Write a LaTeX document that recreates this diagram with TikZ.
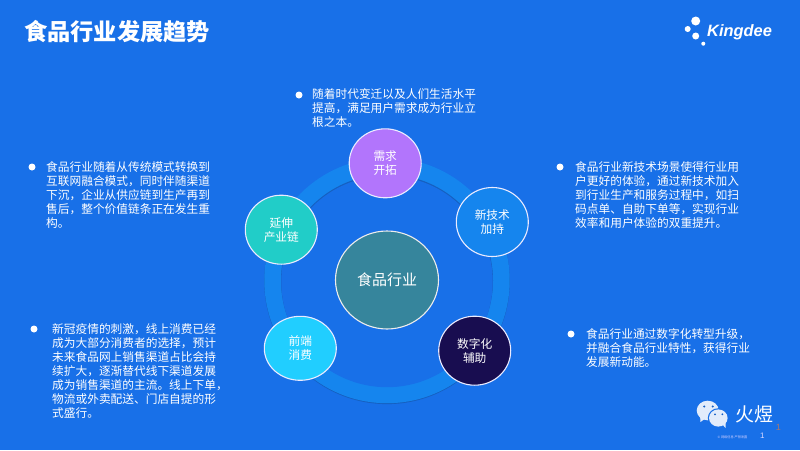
\documentclass[tikz,border=0pt]{standalone}
\usepackage{fontspec}
\setmainfont{Noto Sans CJK SC}
\newfontfamily\latinfont{Liberation Sans}
\usetikzlibrary{shapes.geometric}
\definecolor{bgblue}{HTML}{1870E8}
\definecolor{ringblue}{HTML}{1585EE}
\definecolor{ringshade}{HTML}{1660C0}
\definecolor{bubble}{HTML}{E2ECFB}
\tikzset{
  x=1pt,y=-1pt,
  bodytext/.style={text=white,anchor=north west,align=left,inner sep=0pt,font=\fontsize{11.7}{14}\selectfont},
  bullet/.style={circle,fill=white,minimum size=7pt,inner sep=0pt},
  disc/.style={ellipse,draw=white!92!blue,line width=1.1pt,text=white,align=center,minimum width=72pt,minimum height=69pt,inner sep=0pt,font=\fontsize{11.7}{14}\selectfont},
  logodot/.style={circle,fill=white,inner sep=0pt},
}
\begin{document}
\begin{tikzpicture}
\useasboundingbox (0,0) rectangle (800,450);
\fill[bgblue] (0,0) rectangle (800,450);
% ring
\fill[ringshade] (387,281.3) circle[radius=122.8];
\fill[ringblue] (387,280.5) circle[radius=122.7];
\fill[ringshade] (387,280.5) circle[radius=106];
\fill[bgblue] (387,281.5) circle[radius=105.7];
% title
\node[anchor=west,inner sep=0pt,text=white,font=\fontsize{23.2}{26}\selectfont\bfseries] (title) at (24,31.5) {食品行业发展趋势};
% centre
\node[disc,draw=white!85!gray,fill={rgb,255:red,54;green,133;blue,156},minimum width=103pt,minimum height=98pt,font=\fontsize{15}{18}\selectfont] (centre) at (387,280) {食品行业};
% satellites
\node[disc,fill={rgb,255:red,178;green,117;blue,252}] (demand) at (385.2,163.3) {需求\\开拓};
\node[disc,fill=ringblue] (tech) at (492.3,222) {新技术\\加持};
\node[disc,fill={rgb,255:red,33;green,205;blue,200}] (chain) at (281.3,229.7) {延伸\\产业链};
\node[disc,fill={rgb,255:red,33;green,206;blue,255},minimum height=64pt] (front) at (300.3,348.3) {前端\\消费};
\node[disc,fill={rgb,255:red,24;green,13;blue,80}] (digital) at (474.7,350.7) {数字化\\辅助};
% bullets and text
\node[bullet] (b1) at (299,95) {};
\node[bodytext] (t1) at (312,88.5) {随着时代变迁以及人们生活水平\\提高，满足用户需求成为行业立\\根之本。};
\node[bullet] (b2) at (32,167) {};
\node[bodytext] (t2) at (46,161.5) {食品行业随着从传统模式转换到\\互联网融合模式，同时伴随渠道\\下沉，企业从供应链到生产再到\\售后，整个价值链条正在发生重\\构。};
\node[bullet] (b3) at (560,167) {};
\node[bodytext] (t3) at (575,161.5) {食品行业新技术场景使得行业用\\户更好的体验，通过新技术加入\\到行业生产和服务过程中，如扫\\码点单、自助下单等，实现行业\\效率和用户体验的双重提升。};
\node[bullet] (b4) at (34,329) {};
\node[bodytext] (t4) at (52,323.5) {新冠疫情的刺激，线上消费已经\\成为大部分消费者的选择，预计\\未来食品网上销售渠道占比会持\\续扩大，逐渐替代线下渠道发展\\成为销售渠道的主流。线上下单，\\物流或外卖配送、门店自提的形\\式盛行。};
\node[bullet] (b5) at (571,334) {};
\node[bodytext] (t5) at (586,328.5) {食品行业通过数字化转型升级，\\并融合食品行业特性，获得行业\\发展新动能。};
% Kingdee logo
\node[logodot,minimum size=9pt] (d1) at (695.7,21) {};
\node[logodot,minimum size=6pt] (d2) at (687.7,29) {};
\node[logodot,minimum size=7pt] (d3) at (695.7,36) {};
\node[logodot,minimum size=4pt] (d4) at (703.3,43.7) {};
\node[anchor=west,inner sep=0pt,text=white,font=\latinfont\bfseries\itshape\fontsize{16.4}{18}\selectfont] (logo) at (707,32) {Kingdee};
% wechat
\fill[bubble] (700,415) -- (700.5,422) -- (706,418) -- cycle;
\fill[bubble] (707.7,410.5) ellipse[x radius=11,y radius=9.8];
\fill[bgblue] (718.3,418) ellipse[x radius=10.5,y radius=9.8];
\fill[bubble] (718.3,418) ellipse[x radius=9.3,y radius=8.6];
\fill[bubble] (722,424) -- (725.5,428) -- (725.5,422) -- cycle;
\fill[bgblue!85!black] (704.3,406.5) circle[radius=1.1] (712.7,406.5) circle[radius=1.1] (715,414.3) circle[radius=1] (722.3,414.3) circle[radius=1];
\node[anchor=west,inner sep=0pt,text=white,font=\fontsize{19}{22}\selectfont] (brand) at (735,414) {火煜};
\node[anchor=center,inner sep=0pt,text={rgb,255:red,170;green,120;blue,110},font=\latinfont\fontsize{9}{11}\selectfont] (pg1) at (778.3,427.3) {1};
\node[anchor=center,inner sep=0pt,text=white!85!blue,font=\latinfont\fontsize{8}{10}\selectfont] (pg2) at (762.3,435.7) {1};
\node[anchor=center,inner sep=0pt,text=white!80!blue,font=\fontsize{3.2}{4}\selectfont] (copy) at (732.5,437.3) {© 网络信息 严禁泄露};
\end{tikzpicture}
\end{document}
